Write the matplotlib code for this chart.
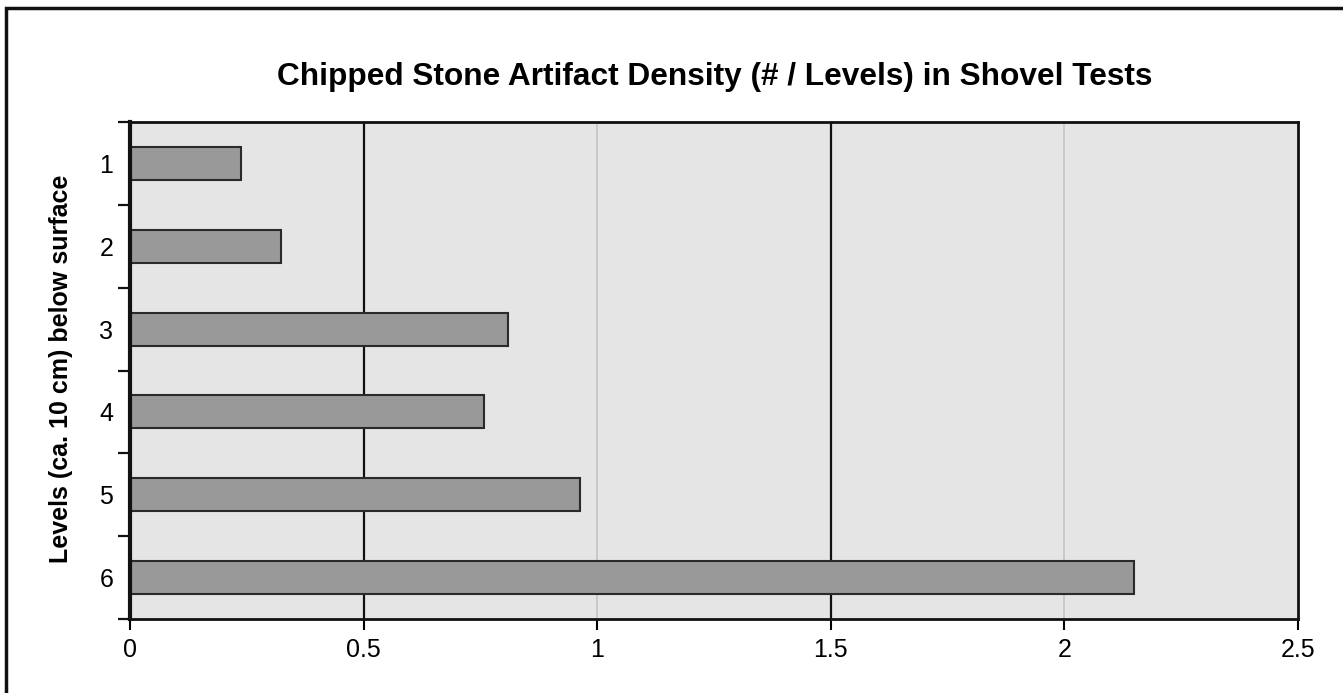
import matplotlib.pyplot as plt
from matplotlib.patches import Rectangle

plt.rcParams['font.family'] = ['Liberation Sans', 'DejaVu Sans']

levels = ["1", "2", "3", "4", "5", "6"]
density = [0.238, 0.323, 0.809, 0.758, 0.963, 2.149]
x_ticks = [0, 0.5, 1, 1.5, 2, 2.5]
x_tick_labels = ["0", "0.5", "1", "1.5", "2", "2.5"]

fig = plt.figure(figsize=(13.43, 6.93), dpi=100)
ax = fig.add_axes([130 / 1343, 1 - 619 / 693, 1168 / 1343, 497 / 693])
ax.set_facecolor("#e5e5e5")

# frame round the whole picture (right and bottom edges run off the image)
fig.patches.append(Rectangle((6 / 1343, -0.1), 1.2, 1 - 8 / 693 + 0.1,
                             transform=fig.transFigure, fill=False,
                             edgecolor="#111111", linewidth=2.5))

# vertical grid: black at the odd half steps, light gray at whole numbers
for x in x_ticks[1:-1]:
    dark = (x * 2) % 2 == 1
    ax.axvline(x, color="#111111" if dark else "#c4c4c4",
               linewidth=1.6 if dark else 1.2, zorder=1)

pos = list(range(len(levels)))
ax.barh(pos, density, height=0.4, color="#999999", edgecolor="#2a2a2a",
        linewidth=1.5, zorder=2)

ax.set_xlim(0, 2.5)
ax.set_ylim(len(levels) - 0.5, -0.5)
ax.set_yticks(pos)
ax.set_yticklabels(levels)
ax.set_yticks([p + 0.5 for p in range(-1, len(levels))], minor=True)
ax.tick_params(axis="y", which="major", length=0, pad=12, labelsize=18)
ax.tick_params(axis="y", which="minor", length=9, width=1.6, color="#111111")
ax.set_xticks(x_ticks)
ax.set_xticklabels(x_tick_labels)
ax.tick_params(axis="x", length=8, width=1.5, pad=6, labelsize=18)
for i, t in enumerate(ax.xaxis.get_major_ticks()):
    if x_ticks[i] in (0, 1, 2):
        t.tick1line.set_color("#c4c4c4")

for side in ["top", "right", "bottom"]:
    ax.spines[side].set_linewidth(2)
    ax.spines[side].set_color("#111111")
ax.spines["left"].set_linewidth(3)
ax.spines["left"].set_color("#111111")

ax.set_ylabel("Levels (ca. 10 cm) below surface", fontsize=18,
              fontweight="bold")
ax.yaxis.set_label_coords(-0.049, 0.504)
fig.text(715 / 1343, 1 - 77 / 693,
         "Chipped Stone Artifact Density (# / Levels) in Shovel Tests",
         ha="center", va="center", fontsize=22.8, fontweight="bold")

fig.savefig("out.png", dpi=100)
